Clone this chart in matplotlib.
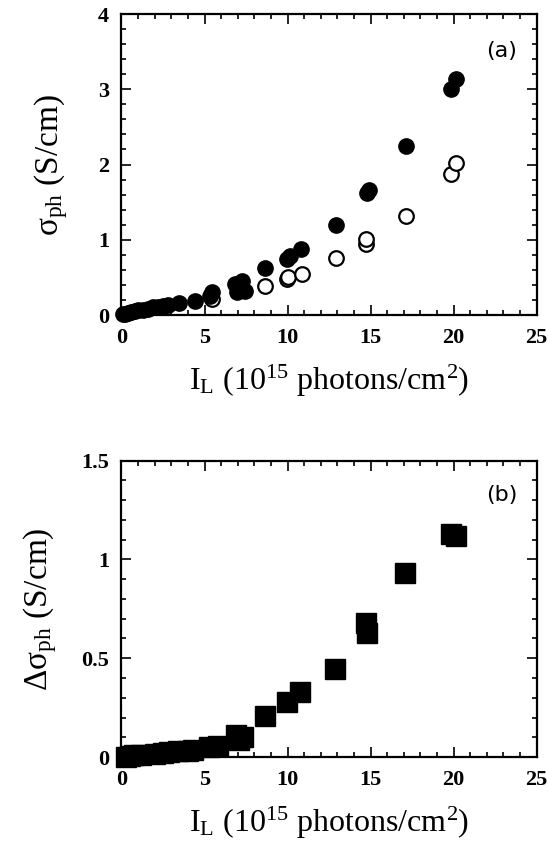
import matplotlib
matplotlib.use('Agg')
import matplotlib.pyplot as plt
from matplotlib.ticker import MultipleLocator

plt.rcParams['font.family'] = ['Liberation Serif', 'DejaVu Serif']
plt.rcParams['mathtext.fontset'] = 'custom'
plt.rcParams['mathtext.rm'] = 'Liberation Serif'
plt.rcParams['mathtext.it'] = 'Liberation Serif:italic'

# panel (a): photoconductivity, filled and open circles
x_filled = [0.1, 0.2, 0.4, 0.6, 0.8, 1.0, 1.3, 1.6, 1.9, 2.2, 2.5, 2.8, 3.46, 4.4,
            5.35, 5.45, 6.86, 6.93, 7.24, 7.24, 7.45, 8.64, 9.96, 10.17, 10.8,
            12.9, 14.79, 14.9, 17.1, 19.82, 20.13]
y_filled = [0.01, 0.02, 0.03, 0.04, 0.05, 0.06, 0.07, 0.08, 0.10, 0.11, 0.12, 0.13, 0.16, 0.19,
            0.25, 0.30, 0.41, 0.30, 0.45, 0.36, 0.32, 0.63, 0.74, 0.78, 0.875,
            1.20, 1.62, 1.66, 2.24, 3.01, 3.13]
x_open = [5.45, 8.64, 9.96, 10.05, 10.85, 12.9, 14.7, 14.75, 17.1, 19.82, 20.13]
y_open = [0.21, 0.39, 0.48, 0.51, 0.55, 0.76, 0.94, 1.01, 1.31, 1.875, 2.02]

# panel (b): difference, filled squares
x_sq = [0.25, 0.5, 0.77, 1.2, 2.03, 2.5, 2.87, 3.4, 4.0, 4.33, 5.28, 5.8,
        6.9, 7.06, 7.3, 8.63, 9.99, 10.72, 12.88, 14.7, 14.8, 17.06, 19.83, 20.14]
y_sq = [0.0, 0.003, 0.008, 0.01, 0.017, 0.02, 0.025, 0.028, 0.03, 0.034, 0.05, 0.055,
        0.11, 0.084, 0.10, 0.21, 0.28, 0.33, 0.445, 0.68, 0.63, 0.93, 1.13, 1.118]

x_ticks = [0, 5, 10, 15, 20, 25]
x_ticklabels = ['0', '5', '10', '15', '20', '25']
y1_ticks = [0, 1, 2, 3, 4]
y1_ticklabels = ['0', '1', '2', '3', '4']
y2_ticks = [0, 0.5, 1, 1.5]
y2_ticklabels = ['0', '0.5', '1', '1.5']

xlabel = r'I$_\mathrm{L}$ (10$^{15}$ photons/cm$^{2}$)'

fig = plt.figure(figsize=(5.48, 8.5), dpi=100)
ax1 = fig.add_axes([0.2217, 0.6294, 0.7577, 0.3541])
ax2 = fig.add_axes([0.2217, 0.1094, 0.7577, 0.3486])


def style(ax, yticks, ytl, yminor):
    ax.set_xlim(0, 25)
    ax.set_ylim(yticks[0], yticks[-1])
    ax.set_xticks(x_ticks, x_ticklabels, fontsize=16, fontweight='bold')
    ax.set_yticks(yticks, ytl, fontsize=16, fontweight='bold')
    ax.xaxis.set_minor_locator(MultipleLocator(1))
    ax.yaxis.set_minor_locator(MultipleLocator(yminor))
    ax.tick_params(which='both', direction='in', top=True, right=True, width=1.2)
    ax.tick_params(which='major', length=7, pad=9)
    ax.tick_params(which='minor', length=3.5)
    for s in ax.spines.values():
        s.set_linewidth(1.6)
    ax.set_xlabel(xlabel, fontsize=23, labelpad=11)


ax1.plot(x_open, y_open, 'o', ms=10.5, mfc='white', mec='black', mew=1.6, zorder=3)
ax1.plot(x_filled, y_filled, 'o', ms=11, mfc='black', mec='black', zorder=4, clip_on=False)
style(ax1, y1_ticks, y1_ticklabels, 0.2)
ax1.set_ylabel('σ$_\\mathrm{ph}$ (S/cm)', fontsize=24, labelpad=20)
ax1.text(0.916, 0.877, '(a)', transform=ax1.transAxes, ha='center', va='center',
         fontsize=16, family='DejaVu Sans')

ax2.plot(x_sq, y_sq, 's', ms=15, mfc='black', mec='black', zorder=4, clip_on=False)
style(ax2, y2_ticks, y2_ticklabels, 0.1)
ax2.set_ylabel('Δσ$_\\mathrm{ph}$ (S/cm)', fontsize=24, labelpad=16)
ax2.text(0.916, 0.884, '(b)', transform=ax2.transAxes, ha='center', va='center',
         fontsize=16, family='DejaVu Sans')

fig.savefig('out.png', dpi=100)
